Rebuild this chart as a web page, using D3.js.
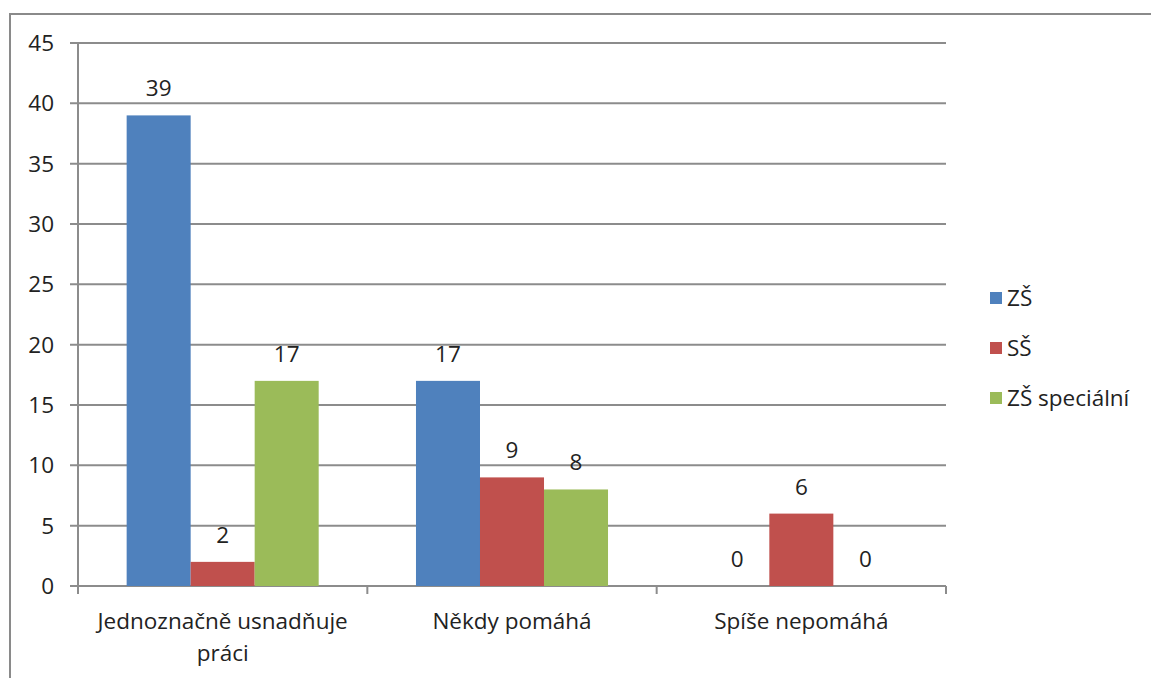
<!DOCTYPE html>
<html>
<head>
    <meta charset="utf-8">
    <script src="https://d3js.org/d3.v7.min.js"></script>
    <style>
        body { margin: 0; background: #fff; }
        text { font-family: "Open Sans", "DejaVu Sans", sans-serif; fill: #222; }
    </style>
</head>
<body>
    <div id="chart"></div>
    <script>
        const categories = ["Jednoznačně usnadňuje|práci", "Někdy pomáhá", "Spíše nepomáhá"];
        const seriesNames = ["ZŠ", "SŠ", "ZŠ speciální"];
        const zsValues = [39, 17, 0];
        const ssValues = [2, 9, 6];
        const zsSpecValues = [17, 8, 0];
        const yTicks = [0, 5, 10, 15, 20, 25, 30, 35, 40, 45];
        const colors = ["#4f81bd", "#c0504d", "#9bbb59"];

        const seriesValues = [zsValues, ssValues, zsSpecValues];
        const data = categories.map((c, i) => ({
            cat: c,
            vals: seriesNames.map((s, j) => ({ key: s, value: seriesValues[j][i], color: colors[j] }))
        }));

        const W = 1151, H = 678;
        const fs = "22.5px";
        const svg = d3.select("#chart").append("svg")
            .attr("width", W).attr("height", H);

        // outer frame
        svg.append("rect")
            .attr("x", 10).attr("y", 14)
            .attr("width", W + 10).attr("height", H + 10)
            .attr("fill", "none").attr("stroke", "#8a8a8a").attr("stroke-width", 2);

        const x0 = d3.scaleBand().domain(categories).range([78, 946]).padding(0);
        const x1 = d3.scaleBand().domain(seriesNames).range([0, x0.bandwidth()])
            .paddingInner(0).paddingOuter(0.76);
        const y = d3.scaleLinear().domain([0, 45]).range([586, 43]);

        // gridlines
        svg.append("g").selectAll("line").data(yTicks).join("line")
            .attr("x1", 70).attr("x2", 946)
            .attr("y1", d => y(d)).attr("y2", d => y(d))
            .attr("stroke", "#8c8c8c").attr("stroke-width", 2);

        // y labels
        svg.append("g").selectAll("text").data(yTicks).join("text")
            .attr("x", 54).attr("y", d => y(d))
            .attr("dy", "0.35em")
            .attr("text-anchor", "end")
            .style("font-size", fs)
            .text(d => d);

        // bars
        const groups = svg.append("g").selectAll("g").data(data).join("g")
            .attr("transform", d => `translate(${x0(d.cat)},0)`);

        groups.selectAll("rect").data(d => d.vals).join("rect")
            .attr("x", d => x1(d.key))
            .attr("y", d => y(d.value))
            .attr("width", x1.bandwidth())
            .attr("height", d => y(0) - y(d.value))
            .attr("fill", d => d.color);

        groups.selectAll("text").data(d => d.vals).join("text")
            .attr("x", d => x1(d.key) + x1.bandwidth() / 2)
            .attr("y", d => y(d.value) - 19)
            .attr("text-anchor", "middle")
            .style("font-size", fs)
            .text(d => d.value);

        // axes lines
        svg.append("line")
            .attr("x1", 78).attr("x2", 78).attr("y1", 43).attr("y2", 594)
            .attr("stroke", "#8c8c8c").attr("stroke-width", 2);

        const bounds = categories.map(c => x0(c)).concat([x0.range()[1]]);
        svg.append("g").selectAll("line").data(bounds).join("line")
            .attr("x1", d => d).attr("x2", d => d)
            .attr("y1", 586).attr("y2", 594)
            .attr("stroke", "#8c8c8c").attr("stroke-width", 2);

        // category labels
        const catLabels = svg.append("g").selectAll("text").data(categories).join("text")
            .attr("x", d => x0(d) + x0.bandwidth() / 2)
            .attr("y", 629)
            .attr("text-anchor", "middle")
            .style("font-size", fs);
        catLabels.each(function (d) {
            const parts = d.split("|");
            const t = d3.select(this);
            parts.forEach((p, i) => {
                t.append("tspan")
                    .attr("x", t.attr("x"))
                    .attr("dy", i === 0 ? 0 : 32)
                    .text(p);
            });
        });

        // legend
        const legend = svg.append("g").selectAll("g").data(seriesNames).join("g")
            .attr("transform", (d, i) => `translate(990,${298 + i * 50})`);
        legend.append("rect")
            .attr("x", 0).attr("y", -6)
            .attr("width", 12).attr("height", 12)
            .attr("fill", (d, i) => colors[i]);
        legend.append("text")
            .attr("x", 17).attr("y", 0).attr("dy", "0.35em")
            .style("font-size", fs)
            .text(d => d);
    </script>
</body>
</html>
